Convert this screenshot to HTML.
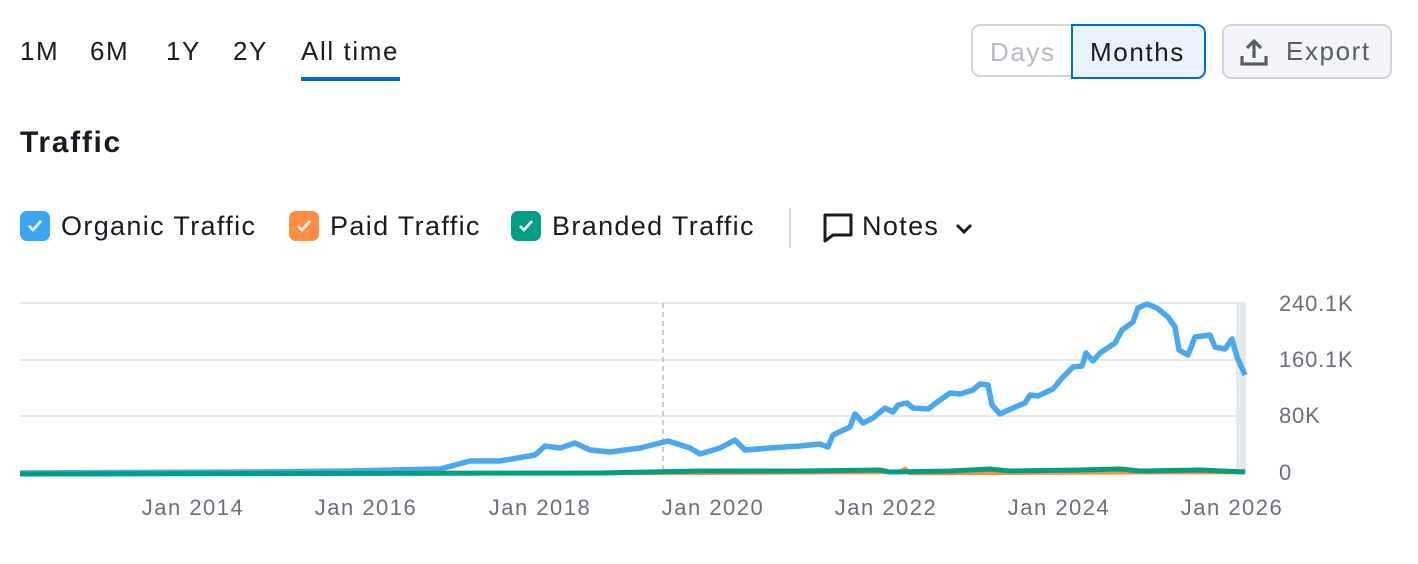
<!DOCTYPE html>
<html><head><style>
body{margin:0;width:1418px;height:564px;background:#fff;font-family:"Liberation Sans",sans-serif;color:#191b23;position:relative;overflow:hidden}
.a{position:absolute;white-space:nowrap}
.cb{position:absolute;width:30px;height:30px;border-radius:7px}
.cb svg{position:absolute;left:7px;top:8px}
.t{letter-spacing:1.6px}
.l{letter-spacing:1.35px}
</style></head><body>
<div class="a t" style="left:20px;top:36px;font-size:26px">1M</div>
<div class="a t" style="left:90px;top:36px;font-size:26px">6M</div>
<div class="a t" style="left:166px;top:36px;font-size:26px">1Y</div>
<div class="a t" style="left:233px;top:36px;font-size:26px">2Y</div>
<div class="a t" style="left:301px;top:36px;font-size:26px">All time</div>
<div class="a" style="left:301px;top:77px;width:99px;height:4px;background:#006dca"></div>

<div class="a" style="left:971px;top:24px;width:100px;height:53px;border:2px solid #d1d4db;border-right:none;border-radius:9px 0 0 9px;box-sizing:border-box"></div>
<div class="a t" style="left:990px;top:37px;font-size:26px;color:#b8bbc2">Days</div>
<div class="a" style="left:1071px;top:24px;width:135px;height:55px;border:2px solid #006dca;border-radius:0 9px 9px 0;background:#e8f3fe;box-sizing:border-box"></div>
<div class="a t" style="left:1090px;top:37px;font-size:26px">Months</div>
<div class="a" style="left:1222px;top:24px;width:170px;height:55px;border:2px solid #d1d4db;border-radius:9px;background:#f4f5f9;box-sizing:border-box"></div>
<svg class="a" style="left:1238px;top:36px" width="32" height="32" viewBox="0 0 32 32"><path d="M16 22V6M9 12l7-7 7 7M4 20v8h24v-8" fill="none" stroke="#5a5d69" stroke-width="3.2"/></svg>
<div class="a t" style="left:1286px;top:36px;font-size:26px;color:#5a5d69">Export</div>

<div class="a" style="left:20px;top:126px;font-size:30px;font-weight:bold;letter-spacing:1.7px">Traffic</div>

<div class="cb" style="left:20px;top:211px;background:#3ba7f4"><svg width="16" height="14"><path d="M2 7l4 4 8-9" fill="none" stroke="#fff" stroke-width="2.6"/></svg></div>
<div class="a l" style="left:61px;top:211px;font-size:27px">Organic Traffic</div>
<div class="cb" style="left:289px;top:211px;background:#ff8c43"><svg width="16" height="14"><path d="M2 7l4 4 8-9" fill="none" stroke="#fff" stroke-width="2.6"/></svg></div>
<div class="a l" style="left:330px;top:211px;font-size:27px">Paid Traffic</div>
<div class="cb" style="left:511px;top:211px;background:#009f81"><svg width="16" height="14"><path d="M2 7l4 4 8-9" fill="none" stroke="#fff" stroke-width="2.6"/></svg></div>
<div class="a l" style="left:552px;top:211px;font-size:27px">Branded Traffic</div>
<div class="a" style="left:789px;top:208px;width:2px;height:40px;background:#d1d4db"></div>
<svg class="a" style="left:822px;top:212px" width="32" height="32" viewBox="0 0 32 32"><path d="M3 3h26v20H11l-8 6z" fill="none" stroke="#191b23" stroke-width="3" stroke-linejoin="round"/></svg>
<div class="a l" style="left:862px;top:211px;font-size:27px">Notes</div>
<svg class="a" style="left:954px;top:222px" width="20" height="14"><path d="M3 3l7 7 7-7" fill="none" stroke="#191b23" stroke-width="3"/></svg>

<svg class="a" style="left:0;top:0" width="1418" height="564">
<g stroke="#e0e1e9" stroke-width="1.5">
<line x1="20" y1="303" x2="1245" y2="303"/><line x1="20" y1="360" x2="1245" y2="360"/><line x1="20" y1="416" x2="1245" y2="416"/>
</g>
<rect x="1236" y="303" width="10" height="171" fill="#e6e9eb"/>
<line x1="663" y1="303" x2="663" y2="473" stroke="#b8bbc2" stroke-width="1.5" stroke-dasharray="5,4"/>
<g font-size="22" fill="#6c6e79" font-family="Liberation Sans">
<g letter-spacing="0.8"><text x="1279" y="311">240.1K</text><text x="1279" y="367">160.1K</text><text x="1279" y="423">80K</text><text x="1279" y="480">0</text></g>
<g text-anchor="middle" letter-spacing="1.5"><text x="193" y="515">Jan 2014</text><text x="366" y="515">Jan 2016</text><text x="540" y="515">Jan 2018</text><text x="713" y="515">Jan 2020</text><text x="886" y="515">Jan 2022</text><text x="1059" y="515">Jan 2024</text><text x="1232" y="515">Jan 2026</text></g>
</g>
<polyline fill="none" stroke="#ff8c43" stroke-width="4.5" points="20,473 600,473 900,472 905,469 910,473 1240,472 1245,471"/>
<polyline fill="none" stroke="#4aa8f0" stroke-width="5.5" stroke-linejoin="round" points="20,473 250,472 350,471 440,469 470,461 500,461 535,455 545,446 560,448 575,443 590,450 610,452 640,448 660,443 668,441 690,448 700,454 720,448 735,440 745,450 770,448 800,446 820,444 828,447 833,435 850,427 855,414 863,423 873,418 885,408 893,412 898,405 907,403 913,408 928,409 940,400 950,393 960,394 973,390 980,384 988,385 992,405 1000,414 1013,408 1025,403 1030,395 1038,396 1053,389 1063,377 1073,367 1082,366 1086,353 1093,361 1100,353 1115,343 1122,330 1133,322 1138,308 1147,304 1157,308 1168,317 1175,327 1179,350 1188,355 1195,337 1210,335 1215,347 1225,349 1232,339 1237,357 1245,375"/>
<polyline fill="none" stroke="#009f81" stroke-width="5" points="20,474 600,473 700,471 800,471 880,470 890,472 950,471 990,469 1010,471 1080,470 1120,469 1140,471 1200,470 1245,472"/>
</svg>
</body></html>
